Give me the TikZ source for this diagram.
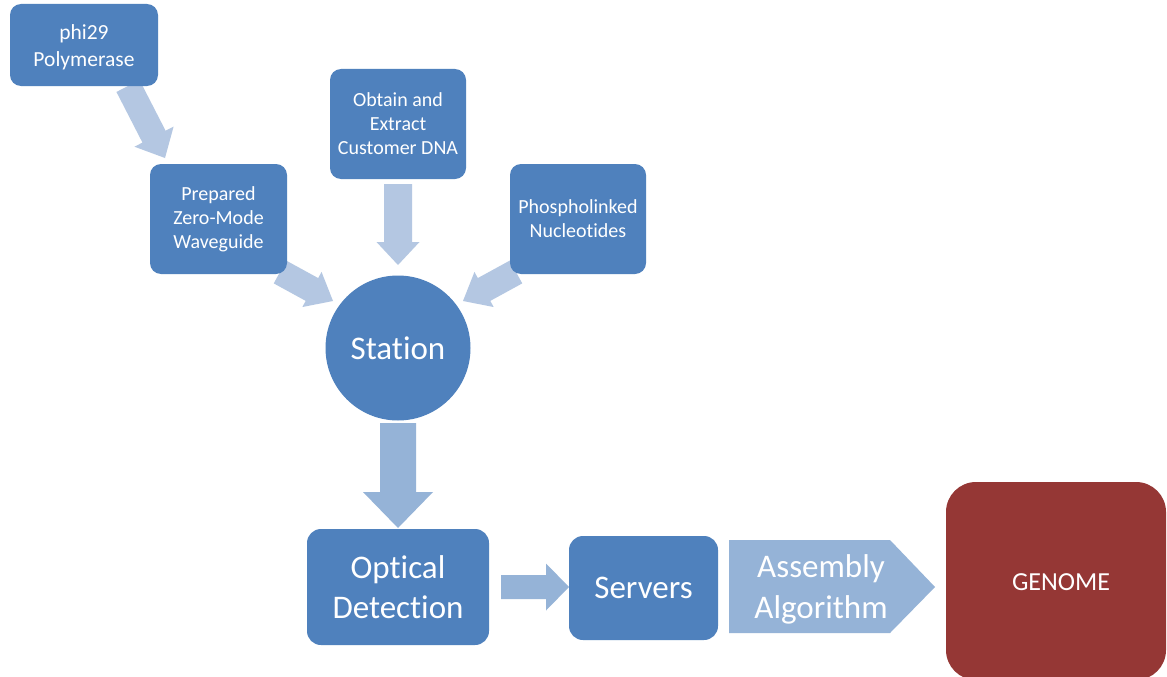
\documentclass[tikz,border=0pt]{standalone}
\usepackage{fontspec}
\setmainfont{Carlito}[Ligatures=NoCommon]
\usetikzlibrary{calc,backgrounds}
\definecolor{boxblue}{HTML}{4F81BD}
\definecolor{arrlight}{HTML}{B4C7E2}
\definecolor{arrmid}{HTML}{95B3D7}
\definecolor{genred}{HTML}{953735}
% block arrow: from, to, shaft half width, head half width, head length, colour
\newcommand\blockarrow[6]{%
  \coordinate (ba-h) at ($(#2)!#5!(#1)$);
  \fill[#6] ($(#1)!#3!90:(#2)$) -- ($(ba-h)!#3!90:(#2)$) -- ($(ba-h)!#4!90:(#2)$) -- (#2)
    -- ($(ba-h)!#4!-90:(#2)$) -- ($(ba-h)!#3!-90:(#2)$) -- ($(#1)!#3!-90:(#2)$) -- cycle;
}
\tikzset{
  box/.style={rectangle, rounded corners=11pt, fill=boxblue, text=white, align=center, inner sep=0pt},
  smalltxt/.style={font=\fontsize{20}{24}\selectfont},
  bigtxt/.style={font=\fontsize{33}{40}\selectfont},
}
\begin{document}
\begin{tikzpicture}[x=1pt,y=-1pt]
\useasboundingbox (0,0) rectangle (1167,677);

\node[box, font=\fontsize{21.5}{27}\selectfont, minimum width=148pt, minimum height=82pt] (phi) at (84,45)
  {\raisebox{-3pt}[\height][\depth]{\begin{tabular}{@{}c@{}}phi29\\Polymerase\end{tabular}}};
\node[box, smalltxt, minimum width=137pt, minimum height=110pt] (zmw) at (218.5,219) {Prepared\\Zero-Mode\\Waveguide};
\node[box, smalltxt, minimum width=136pt, minimum height=110pt] (dna) at (398,124) {Obtain and\\Extract\\Customer DNA};
\node[box, smalltxt, minimum width=136pt, minimum height=110pt] (nuc) at (578,219) {Phospholinked\\Nucleotides};
\node[circle, fill=boxblue, text=white, bigtxt, minimum size=145pt, inner sep=0pt] (sta) at (398,348) {Station};
\node[box, bigtxt, rounded corners=14pt, minimum width=182pt, minimum height=116pt] (opt) at (398,587) {Optical\\Detection};
\node[box, bigtxt, rounded corners=14pt, minimum width=149pt, minimum height=104pt] (srv) at (643.5,588) {Servers};
\node[box, fill=genred, rounded corners=30pt, minimum width=220pt, minimum height=198pt] (gen) at (1056,581) {};
\node[text=white, font=\fontsize{26}{31}\selectfont] (gentxt) at (1061,582) {GENOME};

% Assembly Algorithm pentagon
\coordinate (asmA) at (729,540);
\coordinate (asmB) at (890,540);
\coordinate (asmC) at (935,587);
\coordinate (asmD) at (890,633);
\coordinate (asmE) at (729,633);
\fill[arrmid] (asmA) -- (asmB) -- (asmC) -- (asmD) -- (asmE) -- cycle;
\node[text=white, align=center, font=\fontsize{33}{41}\selectfont] (asm) at (821,589) {Assembly\\Algorithm};

% connector end points
\coordinate (a1s) at (128,86);  \coordinate (a1e) at (165,158);
\coordinate (a2s) at (398,184); \coordinate (a2e) at (398,265);
\coordinate (a3s) at (280,272); \coordinate (a3e) at (333,301);
\coordinate (a4s) at (516,272); \coordinate (a4e) at (463,301);
\coordinate (a5s) at (398,423); \coordinate (a5e) at (398,528);
\coordinate (a6s) at (501,587); \coordinate (a6e) at (569,587);

\begin{scope}[on background layer]
\fill[white] (0,0) rectangle (1167,677);
\blockarrow{a1s}{a1e}{13pt}{22pt}{24pt}{arrlight}
\blockarrow{a2s}{a2e}{14pt}{21.5pt}{23pt}{arrlight}
\blockarrow{a3s}{a3e}{13pt}{20pt}{24pt}{arrlight}
\blockarrow{a4s}{a4e}{13pt}{20pt}{24pt}{arrlight}
\blockarrow{a5s}{a5e}{18pt}{35pt}{36pt}{arrmid}
\blockarrow{a6s}{a6e}{12pt}{23.5pt}{23pt}{arrmid}
\end{scope}
\end{tikzpicture}
\end{document}
